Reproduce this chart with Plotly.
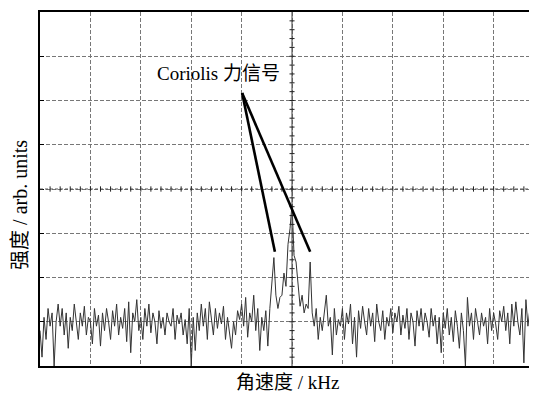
import plotly.graph_objects as go

# ---- data (x in graticule divisions, y in divisions) ----
freq_start = 0.0
freq_step = 0.04
amplitude = [
    0.8, 0.2, 1.1, 0.6, 1.3, 0.9, 1.2, 0.0, 1.0, 1.4,
    0.9, 1.3, 0.7, 1.2, 0.4, 1.1, 0.8, 1.4, 1.0, 0.6,
    1.2, 0.9, 1.35, 0.7, 1.1, 1.0, 0.5, 1.3, 0.9, 1.15,
    0.45, 1.2, 0.8, 1.3, 1.0, 0.6, 1.25, 0.9, 1.4, 0.7,
    1.1, 0.85, 1.3, 0.55, 1.45, 0.3, 1.2, 1.0, 1.5, 0.8,
    1.1, 0.6, 1.3, 0.9, 1.4, 0.75, 1.2, 1.0, 0.5, 1.25,
    0.85, 1.1, 0.7, 1.2, 1.0, 0.9, 1.3, 0.6, 1.15, 0.95,
    1.2, 0.7, 1.05, 0.5, 1.3, 0.0, 1.1, 0.35, 1.2, 0.8,
    1.4, 0.9, 1.3, 0.6, 1.45, 1.0, 0.7, 1.3, 0.85, 1.2,
    0.95, 1.35, 0.6, 1.1, 0.8, 0.4, 1.0, 0.7, 1.25, 1.05,
    1.4, 0.9, 1.55, 0.65, 1.2, 1.0, 1.6, 0.8, 1.3, 0.35,
    1.1, 0.8, 1.25, 0.45, 1.3, 1.9, 2.45, 1.6, 1.3, 1.55,
    1.6, 2.1, 1.8, 2.75, 3.1, 3.65, 2.5, 2.35, 1.9, 1.35,
    1.6, 1.2, 1.4, 1.3, 2.35, 1.2, 0.9, 1.3, 0.6, 1.1,
    0.8, 1.2, 1.6, 0.9, 1.1, 0.25, 1.3, 0.7, 1.05, 0.9,
    1.3, 0.6, 1.2, 0.95, 1.4, 0.5, 1.1, 0.2, 1.25, 0.85,
    1.35, 1.0, 0.7, 1.3, 0.9, 1.2, 0.55, 1.4, 1.0, 0.8,
    1.25, 0.6, 1.1, 0.9, 1.3, 0.75, 1.2, 1.0, 1.35, 0.7,
    1.15, 0.85, 1.3, 0.6, 1.2, 1.0, 0.45, 1.25, 0.9, 1.3,
    0.8, 1.2, 1.0, 0.65, 1.3, 0.9, 1.15, 0.5, 1.1, 0.3,
    1.2, 0.85, 1.3, 0.7, 1.1, 0.55, 1.25, 0.9, 0.4, 1.2,
    0.8, 0.0, 1.55, 0.9, 1.2, 0.6, 1.3, 1.0, 0.7, 1.2,
    0.9, 1.1, 0.5, 1.3, 0.8, 1.2, 0.95, 0.6, 1.25, 1.0,
    1.35, 0.8, 1.2, 0.5, 1.4, 0.9, 1.45, 1.0, 0.7, 1.3,
    0.07, 1.5, 0.9, 1.3, 0.6, 1.2, 1.4, 0.8,
]
frequency = [freq_start + i * freq_step for i in range(len(amplitude))]

annotation_text = "Coriolis 力信号"
annotation_apex = (4.01, 6.17)
annotation_targets = [(4.66, 2.58), (5.36, 2.58)]
x_title = "角速度 / kHz"
y_title = "强度 / arb. units"

SERIF = "Liberation Serif, Times New Roman, Noto Sans CJK SC, serif"

fig = go.Figure()
fig.add_trace(go.Scatter(
    x=frequency, y=amplitude, mode="lines",
    line=dict(color="#333333", width=1),
    hoverinfo="skip", showlegend=False,
))

shapes = []
# centre graticule lines
shapes.append(dict(type="line", xref="x", yref="y", x0=5, x1=5, y0=0, y1=8,
                   line=dict(color="#555555", width=1.2)))
shapes.append(dict(type="line", xref="x", yref="y", x0=0, x1=10, y0=4, y1=4,
                   line=dict(color="#555555", width=1, dash="3px,2px")))
# minor ticks on centre lines
for k in range(1, 40):
    yy = k * 0.2
    shapes.append(dict(type="line", xref="x", yref="y", x0=4.95, x1=5.05, y0=yy, y1=yy,
                       line=dict(color="#222222", width=1)))
for k in range(1, 50):
    xx = k * 0.2
    shapes.append(dict(type="line", xref="x", yref="y", x0=xx, x1=xx, y0=3.94, y1=4.06,
                       line=dict(color="#222222", width=1)))
# pointer lines
for tx, ty in annotation_targets:
    shapes.append(dict(type="line", xref="x", yref="y",
                       x0=annotation_apex[0], y0=annotation_apex[1], x1=tx, y1=ty,
                       line=dict(color="black", width=2.6)))

fig.update_layout(
    width=529, height=386,
    margin=dict(l=32, r=0, t=4, b=28),
    paper_bgcolor="white", plot_bgcolor="white",
    shapes=shapes,
    annotations=[
        dict(x=3.55, y=6.6, xref="x", yref="y", text=annotation_text, showarrow=False,
             font=dict(family=SERIF, size=19, color="black")),
        dict(x=0.497, y=0, xref="paper", yref="paper", yshift=-16, text=x_title,
             showarrow=False, xanchor="center", yanchor="middle",
             font=dict(family=SERIF, size=19, color="black")),
        dict(x=0, y=0.455, xref="paper", yref="paper", xshift=-20, text=y_title,
             showarrow=False, textangle=-90, xanchor="center", yanchor="middle",
             font=dict(family=SERIF, size=20, color="black")),
    ],
    xaxis=dict(range=[0, 9.86], tick0=0, dtick=1, showticklabels=False, ticks="",
               showgrid=True, gridcolor="#777777", gridwidth=1, griddash="4px,2px",
               zeroline=False, showline=True, linecolor="black", linewidth=1.5,
               mirror=True, fixedrange=True),
    yaxis=dict(range=[0, 8], tick0=0, dtick=1, showticklabels=False,
               ticks="inside", ticklen=4, tickcolor="black",
               showgrid=True, gridcolor="#777777", gridwidth=1, griddash="4px,2px",
               zeroline=False, showline=True, linecolor="black", linewidth=1.5,
               mirror=False, fixedrange=True),
)

fig.write_html("out.html")
